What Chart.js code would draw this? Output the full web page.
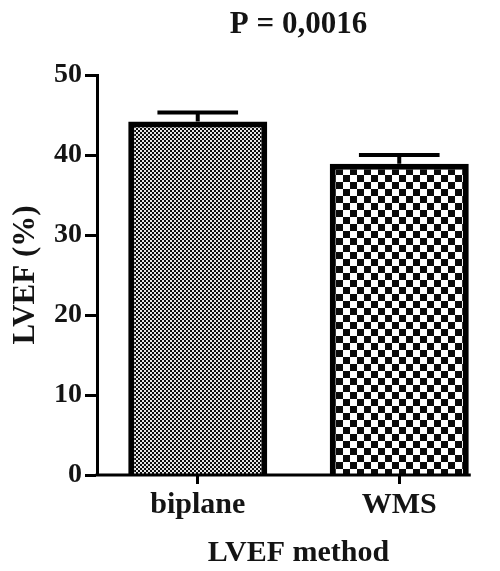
<!DOCTYPE html>
<html>
<head>
<meta charset="utf-8">
<script src="https://cdn.jsdelivr.net/npm/chart.js@4"></script>
<style>
  html, body { margin: 0; padding: 0; background: #fff; }
  #wrap { width: 500px; height: 571px; }
</style>
</head>
<body>
<div id="wrap"><canvas id="lvefChart" width="500" height="571"></canvas></div>
<script>
// values
const categories = ["biplane", "WMS"];
const lvefMean = [44.2, 38.9];
const lvefSem = [1.1, 1.1];
const yTickStep = 10;
const yMin = 0, yMax = 50;
const pTitle = "P = 0,0016";
const yTitle = "LVEF (%)";
const xTitle = "LVEF method";

const serif = "'Liberation Serif', 'DejaVu Serif', serif";
const ink = "#141414";

// fill patterns for the two bars
function checker(cell, dark, light) {
  const c = document.createElement("canvas");
  c.width = cell * 2;
  c.height = cell * 2;
  const g = c.getContext("2d");
  g.fillStyle = light;
  g.fillRect(0, 0, c.width, c.height);
  g.fillStyle = dark;
  g.fillRect(0, 0, cell, cell);
  g.fillRect(cell, cell, cell, cell);
  return g.createPattern(c, "repeat");
}
const fineFill = checker(2, "#0c0c0c", "#e6e6e6");
const coarseFill = checker(7, "#0a0a0a", "#fff");

// error bars (mean + SEM, upper only) and the short x baseline
const errorBars = {
  id: "errorBars",
  afterDatasetsDraw(chart) {
    const ctx = chart.ctx;
    const y = chart.scales.y;
    const meta = chart.getDatasetMeta(0);
    ctx.save();
    ctx.strokeStyle = "#000";
    ctx.lineWidth = 4;
    ctx.lineCap = "butt";
    meta.data.forEach((bar, i) => {
      const top = y.getPixelForValue(lvefMean[i] + lvefSem[i]);
      const base = y.getPixelForValue(lvefMean[i]);
      const half = bar.width * 0.29;
      ctx.beginPath();
      ctx.moveTo(bar.x, base);
      ctx.lineTo(bar.x, top);
      ctx.moveTo(bar.x - half, top);
      ctx.lineTo(bar.x + half, top);
      ctx.stroke();
    });
    // x axis line runs from the y axis to the end of the last bar
    const last = meta.data[meta.data.length - 1];
    const y0 = y.getPixelForValue(0);
    ctx.lineWidth = 3;
    ctx.beginPath();
    ctx.moveTo(chart.chartArea.left - 1.5, y0);
    ctx.lineTo(last.x + last.width / 2 + 2, y0);
    ctx.stroke();
    ctx.restore();
  }
};

const chart = new Chart(document.getElementById("lvefChart"), {
  type: "bar",
  data: {
    labels: categories,
    datasets: [{
      data: lvefMean,
      backgroundColor: [fineFill, coarseFill],
      borderColor: "#000",
      borderWidth: 6,
      borderSkipped: "start",
      categoryPercentage: 1,
      barPercentage: 0.69
    }]
  },
  options: {
    responsive: false,
    animation: false,
    layout: { padding: 0 },
    plugins: {
      legend: { display: false },
      tooltip: { enabled: false },
      title: {
        display: true,
        text: pTitle,
        fullSize: false,
        color: ink,
        font: { family: serif, size: 31, weight: "bold", lineHeight: 1.2 },
        padding: { top: 6, bottom: 31.8 }
      }
    },
    scales: {
      x: {
        afterFit: s => { s.height = 96; },
        border: { display: false },
        grid: {
          offset: false,
          drawOnChartArea: false,
          drawTicks: true,
          tickLength: 9,
          tickWidth: 3,
          tickColor: "#000"
        },
        ticks: {
          color: ink,
          padding: 3,
          font: { family: serif, size: 30, weight: "bold" }
        },
        title: {
          display: true,
          text: xTitle,
          color: ink,
          font: { family: serif, size: 30, weight: "bold", lineHeight: 1.2 },
          padding: { top: 0, bottom: 0 }
        }
      },
      y: {
        min: yMin,
        max: yMax,
        afterFit: s => { s.width = 97; },
        border: { display: true, color: "#000", width: 3 },
        grid: {
          drawOnChartArea: false,
          drawTicks: true,
          tickLength: 12,
          tickWidth: 3,
          tickColor: "#000"
        },
        ticks: {
          stepSize: yTickStep,
          color: ink,
          padding: 3,
          font: { family: serif, size: 28, weight: "bold" }
        },
        title: {
          display: true,
          text: yTitle,
          color: ink,
          font: { family: serif, size: 31, weight: "bold", lineHeight: 1.2 },
          padding: { top: 7, bottom: 0 }
        }
      }
    }
  },
  plugins: [errorBars]
});
</script>
</body>
</html>
